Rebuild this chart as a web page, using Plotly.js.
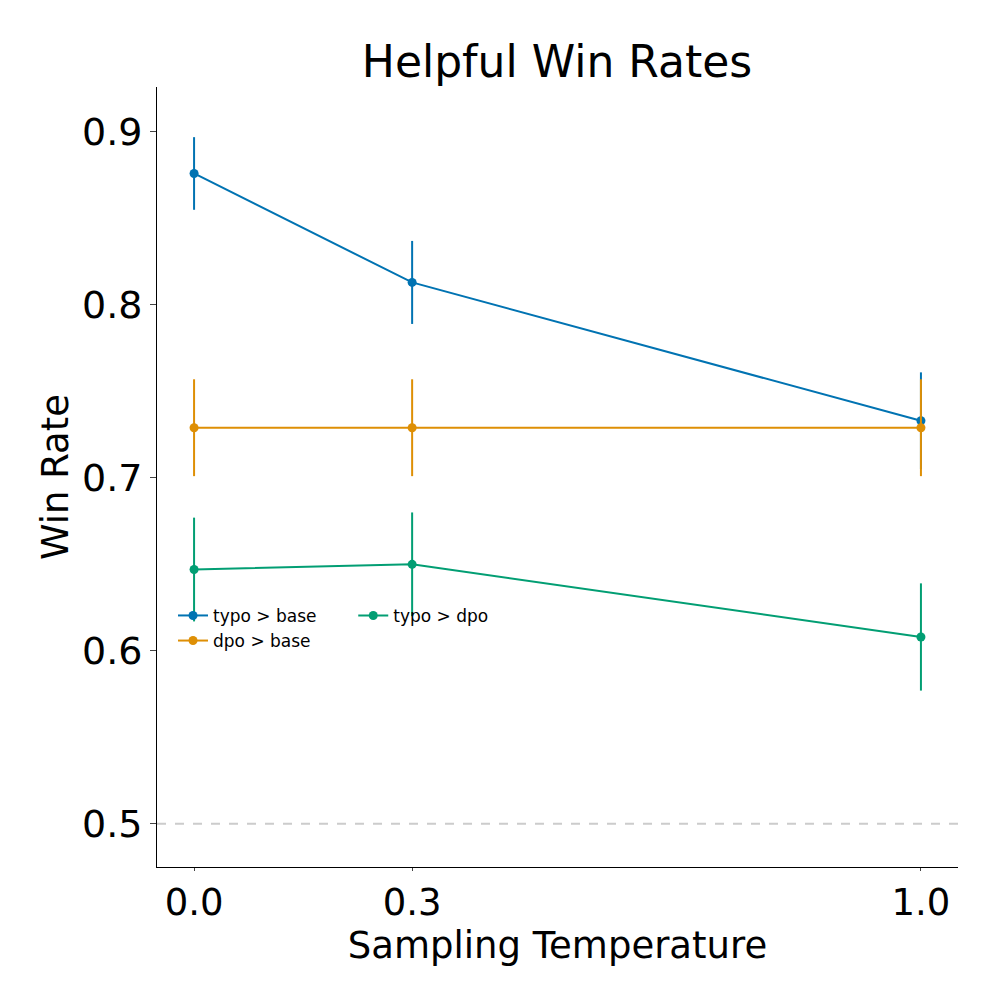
<!DOCTYPE html>
<html>
<head>
<script src="https://cdn.plot.ly/plotly-3.0.1.min.js"></script>
<style>body{margin:0;background:#fff}</style>
</head>
<body>
<div id="chart" style="width:1000px;height:1000px;"></div>
<script>
const temps = [0.0, 0.3, 1.0];
const tickLabels = ['0.0', '0.3', '1.0'];
const typoBase = [0.876, 0.813, 0.733];
const typoBaseErr = [0.021, 0.024, 0.028];
const dpoBase = [0.729, 0.729, 0.729];
const dpoBaseErr = [0.028, 0.028, 0.028];
const typoDpo = [0.647, 0.650, 0.608];
const typoDpoErr = [0.030, 0.030, 0.031];

function series(name, y, err, color, legend) {
    return {
        x: temps, y: y, name: name, type: 'scatter', mode: 'lines+markers',
        line: { color: color, width: 2 },
        marker: { color: color, size: 9 },
        error_y: { type: 'data', array: err, color: color, thickness: 2, width: 0 },
        legend: legend
    };
}

const traces = [
    series('typo > base', typoBase, typoBaseErr, '#0173b2', 'legend'),
    series('dpo > base', dpoBase, dpoBaseErr, '#de8f05', 'legend'),
    series('typo > dpo', typoDpo, typoDpoErr, '#029e73', 'legend2')
];

const legendStyle = { bgcolor: 'rgba(0,0,0,0)', font: { size: 17, color: '#000' }, yanchor: 'top', tracegroupgap: 2 };

const layout = {
    width: 1000, height: 1000,
    margin: { l: 157, r: 42, t: 87, b: 133 },
    paper_bgcolor: '#fff', plot_bgcolor: '#fff',
    font: { family: 'DejaVu Sans', color: '#000' },
    title: { text: 'Helpful Win Rates', font: { size: 44 }, x: 0.557, xanchor: 'center', y: 0.938, yanchor: 'middle' },
    xaxis: {
        range: [-0.051, 1.051], tickvals: temps, ticktext: tickLabels,
        showgrid: false, zeroline: false, showline: true, linecolor: '#000', linewidth: 1,
        ticks: 'outside', ticklen: 3, tickfont: { size: 37 },
        title: { text: 'Sampling Temperature', font: { size: 37 }, standoff: 0 }
    },
    yaxis: {
        range: [0.475, 0.926], tickvals: [0.5, 0.6, 0.7, 0.8, 0.9],
        showgrid: false, zeroline: false, showline: true, linecolor: '#000', linewidth: 1,
        ticks: 'outside', ticklen: 6, tickfont: { size: 38 },
        title: { text: 'Win Rate', font: { size: 37 }, standoff: 2 }
    },
    shapes: [{
        type: 'line', xref: 'paper', x0: 0, x1: 1, yref: 'y', y0: 0.5, y1: 0.5,
        line: { color: '#cccccc', width: 2, dash: 'dash' }
    }],
    legend: Object.assign({ x: 0.02, y: 0.345 }, legendStyle),
    legend2: Object.assign({ x: 0.245, y: 0.345 }, legendStyle)
};

Plotly.newPlot('chart', traces, layout, { displayModeBar: false });
</script>
</body>
</html>
